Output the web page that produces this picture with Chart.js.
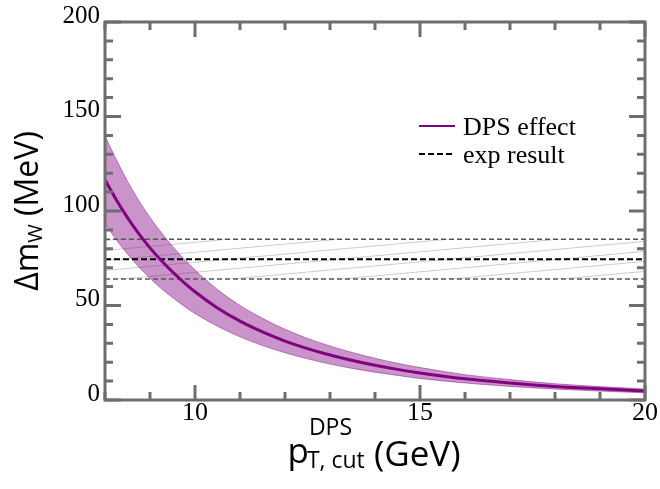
<!DOCTYPE html>
<html>
<head>
<meta charset="utf-8">
<script src="https://cdn.jsdelivr.net/npm/chart.js@4/dist/chart.umd.min.js"></script>
<style>
  html, body { margin: 0; padding: 0; background: #fff; }
  canvas { display: block; }
</style>
</head>
<body>
<canvas id="chart" width="660" height="489"></canvas>
<script>
'use strict';

// pT cut (GeV) and DPS shift of m_W (MeV)
const ptCut     = [8, 8.25, 8.5, 8.75, 9, 9.25, 9.5, 9.75, 10, 10.5, 11, 11.5, 12, 12.5, 13, 13.5, 14, 14.5, 15, 16, 17, 18, 19, 20];
const dpsCentral = [116.5, 106, 96.5, 88, 80.5, 73.8, 67.8, 62.3, 57.3, 48.7, 41.7, 36, 31.2, 27.2, 23.8, 20.9, 18.4, 16.2, 14.3, 11.2, 9.0, 7.2, 5.9, 4.8];
const dpsLower   = [93.2, 84.8, 77.2, 70.4, 64.4, 59, 54.2, 49.8, 45.8, 39, 33.4, 28.8, 25, 21.8, 19, 16.7, 14.7, 13, 11.4, 9, 7.2, 5.8, 4.7, 3.8];
const dpsUpper   = [139.8, 127.2, 115.8, 105.6, 96.6, 88.6, 81.4, 74.8, 68.8, 58.4, 50, 43.2, 37.4, 32.6, 28.6, 25.1, 22.1, 19.4, 17.2, 13.4, 10.8, 8.6, 7.1, 5.8];

// experimental result band
const expRange   = [8, 20];
const expCentral = 74.5;
const expHigh    = 85;
const expLow     = 64;

const xTicks = [8, 9, 10, 11, 12, 13, 14, 15, 16, 17, 18, 19, 20];

const PURPLE = '#800080';
const FRAME = '#6e6e6e';
const SANS = '"Open Sans", "Noto Sans", sans-serif';
const SERIF = '"Liberation Serif", "Times New Roman", serif';

const toPts = (xs, ys) => xs.map((x, i) => ({ x: x, y: ys[i] }));
const flat = v => expRange.map(x => ({ x: x, y: v }));

function hatchPattern() {
    const c = document.createElement('canvas');
    c.width = 110; c.height = 10;
    const g = c.getContext('2d');
    g.strokeStyle = '#cdcdcd';
    g.lineWidth = 1;
    for (let k = -1; k <= 1; k++) {
        g.beginPath();
        g.moveTo(0, 10 + k * 10);
        g.lineTo(110, k * 10);
        g.stroke();
    }
    return g.createPattern(c, 'repeat');
}

// frame with inward ticks on all four sides
const framePlugin = {
    id: 'frame',
    afterDatasetsDraw(chart) {
        const { ctx, chartArea: a, scales } = chart;
        ctx.save();
        ctx.strokeStyle = FRAME;
        ctx.lineWidth = 3;
        ctx.beginPath();
        scales.x.ticks.forEach(t => {
            const px = scales.x.getPixelForValue(t.value);
            const len = t.value % 5 === 0 ? 15 : 8;
            ctx.moveTo(px, a.bottom); ctx.lineTo(px, a.bottom - len);
            ctx.moveTo(px, a.top); ctx.lineTo(px, a.top + len);
        });
        scales.y.ticks.forEach(t => {
            const py = scales.y.getPixelForValue(t.value);
            const len = t.value % 50 === 0 ? 16 : 8;
            ctx.moveTo(a.left, py); ctx.lineTo(a.left + len, py);
            ctx.moveTo(a.right, py); ctx.lineTo(a.right - len, py);
        });
        ctx.stroke();
        ctx.strokeRect(a.left, a.top, a.right - a.left, a.bottom - a.top);
        ctx.restore();
    }
};

// legend inside the plot and the two axis titles with sub/superscripts
const textPlugin = {
    id: 'texts',
    afterDraw(chart) {
        const { ctx, chartArea: a } = chart;
        ctx.save();
        ctx.fillStyle = '#000';

        // legend
        const lx = a.left + 314;
        ctx.lineWidth = 2;
        ctx.strokeStyle = PURPLE;
        ctx.beginPath(); ctx.moveTo(lx, 126); ctx.lineTo(lx + 36, 126); ctx.stroke();
        ctx.strokeStyle = '#000';
        ctx.setLineDash([6, 3]);
        ctx.beginPath(); ctx.moveTo(lx, 154); ctx.lineTo(lx + 34, 154); ctx.stroke();
        ctx.setLineDash([]);
        ctx.font = '26px ' + SERIF;
        ctx.textBaseline = 'alphabetic';
        ctx.textAlign = 'left';
        ctx.fillText('DPS effect', lx + 44, 135);
        ctx.fillText('exp result', lx + 44, 163);

        // x title: p_{T, cut}^{DPS} (GeV)
        const big = '35px ' + SANS, small = '23px ' + SANS;
        ctx.font = big;
        const wp = ctx.measureText('p').width;
        const wg = ctx.measureText(' (GeV)').width;
        ctx.font = small;
        const ws = Math.max(ctx.measureText('DPS').width, ctx.measureText('T, cut').width);
        let x = (a.left + a.right) / 2 - (wp + ws + wg) / 2;
        ctx.font = big;
        ctx.fillText('p', x, 463);
        x += wp;
        ctx.font = small;
        ctx.fillText('DPS', x, 435);
        ctx.fillText('T, cut', x - 2, 468);
        x += ws - 2;
        ctx.font = big;
        ctx.fillText(' (GeV)', x, 466);

        // y title: Δm_W (MeV)
        ctx.translate(38, (a.top + a.bottom) / 2);
        ctx.rotate(-Math.PI / 2);
        const yb = '32px ' + SANS, ys = '20px ' + SANS;
        ctx.font = yb;
        const w1 = ctx.measureText('Δm').width;
        const w3 = ctx.measureText(' (MeV)').width;
        ctx.font = ys;
        const w2 = ctx.measureText('W').width;
        let y = -(w1 + w2 + w3) / 2;
        ctx.font = yb;
        ctx.fillText('Δm', y, 0);
        y += w1;
        ctx.font = ys;
        ctx.fillText('W', y, 4);
        y += w2;
        ctx.font = yb;
        ctx.fillText(' (MeV)', y, 0);
        ctx.restore();
    }
};

const datasets = [
    {   // 0 central DPS curve
        data: toPts(ptCut, dpsCentral),
        borderColor: PURPLE, borderWidth: 3,
        cubicInterpolationMode: 'monotone',
        pointRadius: 0, fill: false, order: 0
    },
    {   // 1 exp central value
        data: flat(expCentral),
        borderColor: '#000', borderWidth: 2, borderDash: [6, 3],
        pointRadius: 0, fill: false, order: 1
    },
    {   // 2 exp upper
        data: flat(expHigh),
        borderColor: '#555', borderWidth: 1.5, borderDash: [5, 3],
        pointRadius: 0, fill: false, order: 1
    },
    {   // 3 exp lower
        data: flat(expLow),
        borderColor: '#555', borderWidth: 1.5, borderDash: [5, 3],
        pointRadius: 0, fill: false, order: 1
    },
    {   // 4 DPS band upper edge
        data: toPts(ptCut, dpsUpper),
        borderColor: 'rgba(128,0,128,0.45)', borderWidth: 1,
        backgroundColor: 'rgba(128,0,128,0.42)',
        cubicInterpolationMode: 'monotone',
        pointRadius: 0, fill: 5, order: 2
    },
    {   // 5 DPS band lower edge
        data: toPts(ptCut, dpsLower),
        borderColor: 'rgba(128,0,128,0.45)', borderWidth: 1,
        cubicInterpolationMode: 'monotone',
        pointRadius: 0, fill: false, order: 2
    },
    {   // 6 hatched exp band
        data: flat(expHigh),
        borderWidth: 0, borderColor: 'rgba(0,0,0,0)',
        backgroundColor: hatchPattern(),
        pointRadius: 0, fill: 3, order: 3
    }
];

new Chart(document.getElementById('chart'), {
    type: 'line',
    data: { datasets: datasets },
    options: {
        responsive: false,
        animation: false,
        devicePixelRatio: 1,
        layout: { padding: { left: 0, right: 15, top: 22, bottom: 0 } },
        plugins: {
            legend: { display: false },
            tooltip: { enabled: false },
            title: { display: false }
        },
        scales: {
            x: {
                type: 'linear', min: 8, max: 20,
                afterBuildTicks: s => { s.ticks = xTicks.map(v => ({ value: v })); },
                afterFit: s => { s.height = 89; },
                grid: { display: false, drawTicks: false },
                border: { display: false },
                ticks: {
                    autoSkip: false, maxRotation: 0, padding: -2,
                    color: '#000', font: { family: SERIF, size: 26 },
                    callback: v => (v % 5 === 0 ? String(v) : '')
                }
            },
            y: {
                type: 'linear', min: 0, max: 200,
                afterFit: s => { s.width = 105; },
                grid: { display: false, drawTicks: false },
                border: { display: false },
                ticks: {
                    stepSize: 10, autoSkip: false, padding: 5, labelOffset: -6,
                    color: '#000', font: { family: SERIF, size: 25 },
                    callback: v => (v % 50 === 0 ? String(v) : '')
                }
            }
        }
    },
    plugins: [framePlugin, textPlugin]
});
</script>
</body>
</html>
